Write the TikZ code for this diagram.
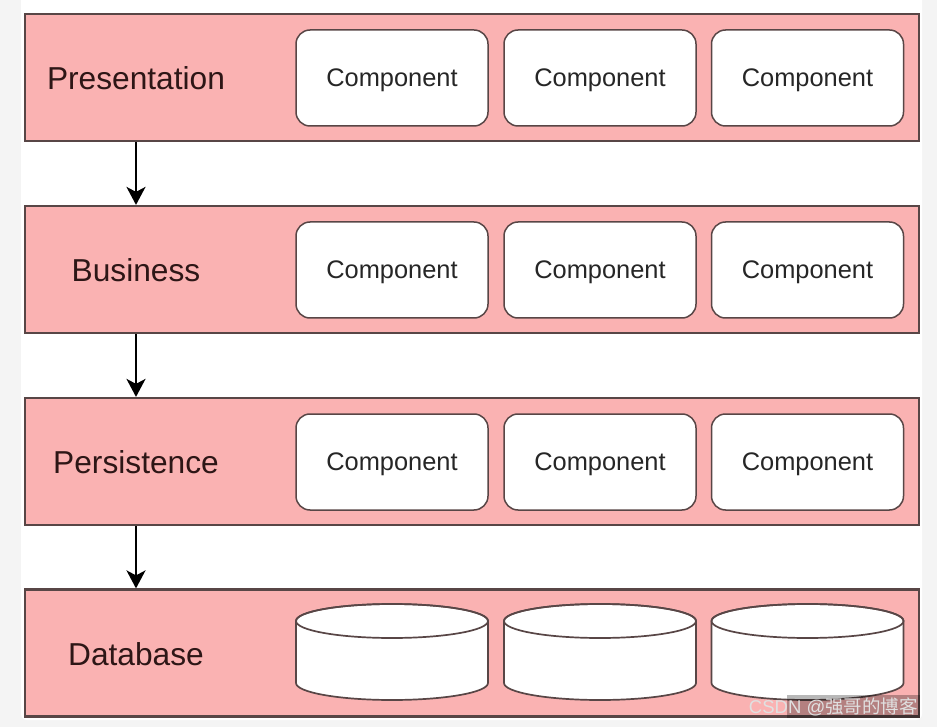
\documentclass[tikz,border=0pt]{standalone}
\usepackage{fontspec}
\setmainfont{Liberation Sans}
\newfontfamily\cjk{Noto Sans CJK SC}
\usetikzlibrary{arrows.meta}
\definecolor{layerfill}{RGB}{250,178,178}
\definecolor{layerline}{RGB}{88,70,70}
\definecolor{labeltext}{RGB}{45,22,22}
\definecolor{pagebg}{RGB}{244,244,244}
\tikzset{
  layer/.style={draw=layerline, fill=layerfill, line width=2.2pt, minimum width=894pt, minimum height=127pt, inner sep=0pt},
  layerlabel/.style={text=labeltext, font=\fontsize{31.7}{36}\selectfont, inner sep=0pt, text depth=0pt},
  comp/.style={draw=layerline, fill=white, line width=1.5pt, rounded corners=14pt, minimum width=192pt, minimum height=96pt, inner sep=0pt, font=\fontsize{25.4}{30}\selectfont, text=black!85, text depth=0pt},
  dbbody/.style={draw=layerline, fill=white, line width=1.7pt},
  flow/.style={draw=black, line width=2.2pt, -{Stealth[length=18pt, width=19pt, inset=5pt]}},
}
\begin{document}
\begin{tikzpicture}[x=1pt, y=-1pt]
\useasboundingbox (0,0) rectangle (937,727);
\fill[pagebg] (0,0) rectangle (937,727);
\fill[white, rounded corners=6pt] (21,-10) rectangle (922,720);

% layers
\node[layer] (L1) at (472,77.5) {};
\node[layer] (L2) at (472,269.5) {};
\node[layer] (L3) at (472,461.5) {};
\node[layer] (L4) at (472,653) {};

% labels
\node[layerlabel] (T1) at (136,78) {Presentation};
\node[layerlabel] (T2) at (136,270) {Business};
\node[layerlabel] (T3) at (136,462) {Persistence};
\node[layerlabel] (T4) at (136,654) {Database};

% components
\foreach \r/\y in {1/78, 2/270, 3/462}{
  \node[comp] (C\r a) at (392,\y) {Component};
  \node[comp] (C\r b) at (600,\y) {Component};
  \node[comp] (C\r c) at (807.5,\y) {Component};
}

% database cylinders
\foreach \n/\cx in {a/392, b/600, c/807.5}{
  \coordinate (D\n) at (\cx,652);
  \path[dbbody] (\cx-96,621) -- ++(0,62) arc[start angle=180, end angle=360, x radius=96pt, y radius=17pt] -- ++(0,-62) arc[start angle=0, end angle=180, x radius=96pt, y radius=17pt] -- cycle;
  \draw[layerline, line width=1.7pt] (\cx,621) ellipse[x radius=96pt, y radius=17pt];
}

% arrows
\draw[flow] (L1.south -| T1) -- (L2.north -| T1);
\draw[flow] (L2.south -| T2) -- (L3.north -| T2);
\draw[flow] (L3.south -| T3) -- (L4.north -| T3);

% watermark
\fill[black, opacity=0.28] (787,695) rectangle (920,718);
\node[anchor=east, inner sep=0pt, text=white!88!black, font=\fontsize{18.5}{22}\selectfont] (W) at (918,707) {CSDN @{\cjk 强哥的博客}};
\end{tikzpicture}
\end{document}
